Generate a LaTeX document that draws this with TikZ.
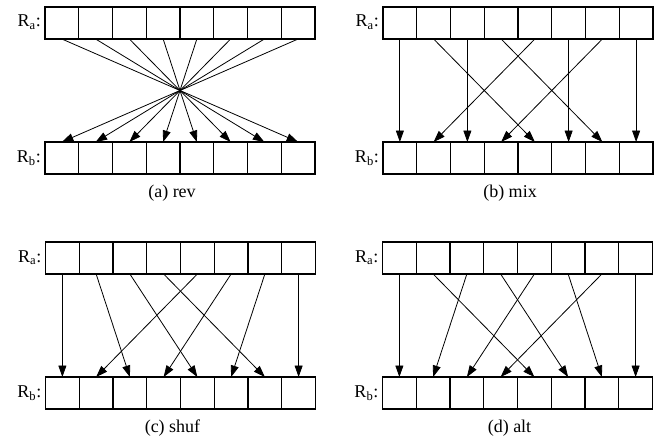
\documentclass[tikz,border=0pt]{standalone}
\usepackage{fontspec}
\setmainfont{Liberation Serif}
\usetikzlibrary{arrows.meta}
\tikzset{
  cell/.style={draw=black, line width=1.1pt, rectangle, minimum width=33.75pt, minimum height=32pt, inner sep=0pt, outer sep=0pt},
  arr/.style={draw=black, line width=0.8pt, -{Triangle[length=11.5pt,width=8pt]}},
  lbl/.style={font=\fontsize{18}{20}\selectfont, inner sep=0pt},
  captext/.style={font=\fontsize{18}{20}\selectfont, inner sep=0pt, anchor=base}
}
\newcommand{\drawpanel}[5]{%
  \foreach \i in {0,...,7} {
    \node[cell] (#3t\i) at ({#1+33.75*(\i+0.5)}, {#2+16}) {};
    \node[cell] (#3b\i) at ({#1+33.75*(\i+0.5)}, {#2+151}) {};
  }
  \node[lbl, anchor=base east] (#3la) at ({#1-4}, {#2+20}) {R\textsubscript{a}:};
  \node[lbl, anchor=base east] (#3lb) at ({#1-4}, {#2+155.5}) {R\textsubscript{b}:};
  \foreach \s/\d in {#4} {
    \draw[arr] (#3t\s.south) -- (#3b\d.north);
  }
  \node[captext] (#3cap) at ({#1+127}, {#2+190}) {#5};
}
\begin{document}
\begin{tikzpicture}[x=1pt, y=-1pt]
\useasboundingbox (0,0) rectangle (659,436);
\drawpanel{45}{7}{a}{0/7,1/6,2/5,3/4,4/3,5/2,6/1,7/0}{(a) rev}
\drawpanel{383}{7}{b}{0/0,1/4,2/2,3/6,4/1,5/5,6/3,7/7}{(b) mix}
\drawpanel{45.5}{242}{c}{0/0,1/2,2/4,3/6,4/1,5/3,6/5,7/7}{(c) shuf}
\drawpanel{382.5}{242}{d}{0/0,1/4,2/1,3/5,4/2,5/6,6/3,7/7}{(d) alt}
\end{tikzpicture}
\end{document}
